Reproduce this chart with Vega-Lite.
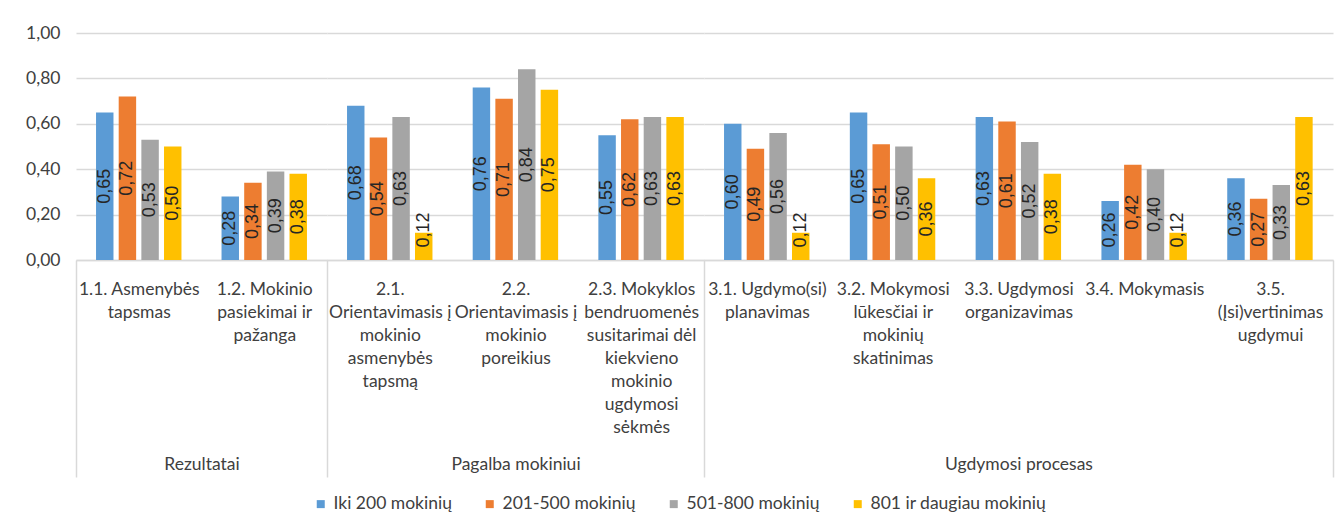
{
  "$schema": "https://vega.github.io/schema/vega-lite/v6.json",
  "padding": {"left": 25, "top": 24, "right": 5, "bottom": 5},
  "bounds": "flush",
  "spacing": 0,
  "config": {
    "locale": {"number": {"decimal": ",", "thousands": " ", "grouping": [3], "currency": ["", " €"]}},
    "view": {"stroke": null},
    "font": "Lato",
    "axis": {"gridColor": "#d9d9d9", "gridWidth": 1.3, "domainColor": "#d9d9d9", "domainWidth": 1.5, "labelFont": "Lato", "labelFontSize": 17.5, "labelColor": "#404040", "titleFont": "Lato", "titleFontSize": 17.5, "titleFontWeight": "normal", "titleColor": "#404040"},
    "axisX": {"titleY": 204, "titleBaseline": "middle", "labelExpr": "split(datum.label, '|')", "labelAngle": 0, "labelBaseline": "top", "labelLineHeight": 23, "labelPadding": -197, "labelLimit": 0, "labelOverlap": false, "labelBound": false, "labelFlush": false, "tickBand": "extent", "tickSize": 217, "tickColor": "#d9d9d9", "tickWidth": 1.5},
    "legend": {"labelFont": "Lato", "labelFontSize": 17.5, "labelColor": "#404040", "labelLimit": 0, "layout": {"bottom": {"anchor": "middle"}}}
  },
  "datasets": {
    "d": [
      {"grp": "Rezultatai", "cat": "1.1. Asmenybės|tapsmas", "series": "Iki 200 mokinių", "v": 0.65},
      {"grp": "Rezultatai", "cat": "1.1. Asmenybės|tapsmas", "series": "201-500 mokinių", "v": 0.72},
      {"grp": "Rezultatai", "cat": "1.1. Asmenybės|tapsmas", "series": "501-800 mokinių", "v": 0.53},
      {"grp": "Rezultatai", "cat": "1.1. Asmenybės|tapsmas", "series": "801 ir daugiau mokinių", "v": 0.50},
      {"grp": "Rezultatai", "cat": "1.2. Mokinio|pasiekimai ir|pažanga", "series": "Iki 200 mokinių", "v": 0.28},
      {"grp": "Rezultatai", "cat": "1.2. Mokinio|pasiekimai ir|pažanga", "series": "201-500 mokinių", "v": 0.34},
      {"grp": "Rezultatai", "cat": "1.2. Mokinio|pasiekimai ir|pažanga", "series": "501-800 mokinių", "v": 0.39},
      {"grp": "Rezultatai", "cat": "1.2. Mokinio|pasiekimai ir|pažanga", "series": "801 ir daugiau mokinių", "v": 0.38},
      {"grp": "Pagalba mokiniui", "cat": "2.1.|Orientavimasis į|mokinio|asmenybės|tapsmą", "series": "Iki 200 mokinių", "v": 0.68},
      {"grp": "Pagalba mokiniui", "cat": "2.1.|Orientavimasis į|mokinio|asmenybės|tapsmą", "series": "201-500 mokinių", "v": 0.54},
      {"grp": "Pagalba mokiniui", "cat": "2.1.|Orientavimasis į|mokinio|asmenybės|tapsmą", "series": "501-800 mokinių", "v": 0.63},
      {"grp": "Pagalba mokiniui", "cat": "2.1.|Orientavimasis į|mokinio|asmenybės|tapsmą", "series": "801 ir daugiau mokinių", "v": 0.12},
      {"grp": "Pagalba mokiniui", "cat": "2.2.|Orientavimasis į|mokinio|poreikius", "series": "Iki 200 mokinių", "v": 0.76},
      {"grp": "Pagalba mokiniui", "cat": "2.2.|Orientavimasis į|mokinio|poreikius", "series": "201-500 mokinių", "v": 0.71},
      {"grp": "Pagalba mokiniui", "cat": "2.2.|Orientavimasis į|mokinio|poreikius", "series": "501-800 mokinių", "v": 0.84},
      {"grp": "Pagalba mokiniui", "cat": "2.2.|Orientavimasis į|mokinio|poreikius", "series": "801 ir daugiau mokinių", "v": 0.75},
      {"grp": "Pagalba mokiniui", "cat": "2.3. Mokyklos|bendruomenės|susitarimai dėl|kiekvieno|mokinio|ugdymosi|sėkmės", "series": "Iki 200 mokinių", "v": 0.55},
      {"grp": "Pagalba mokiniui", "cat": "2.3. Mokyklos|bendruomenės|susitarimai dėl|kiekvieno|mokinio|ugdymosi|sėkmės", "series": "201-500 mokinių", "v": 0.62},
      {"grp": "Pagalba mokiniui", "cat": "2.3. Mokyklos|bendruomenės|susitarimai dėl|kiekvieno|mokinio|ugdymosi|sėkmės", "series": "501-800 mokinių", "v": 0.63},
      {"grp": "Pagalba mokiniui", "cat": "2.3. Mokyklos|bendruomenės|susitarimai dėl|kiekvieno|mokinio|ugdymosi|sėkmės", "series": "801 ir daugiau mokinių", "v": 0.63},
      {"grp": "Ugdymosi procesas", "cat": "3.1. Ugdymo(si)|planavimas", "series": "Iki 200 mokinių", "v": 0.60},
      {"grp": "Ugdymosi procesas", "cat": "3.1. Ugdymo(si)|planavimas", "series": "201-500 mokinių", "v": 0.49},
      {"grp": "Ugdymosi procesas", "cat": "3.1. Ugdymo(si)|planavimas", "series": "501-800 mokinių", "v": 0.56},
      {"grp": "Ugdymosi procesas", "cat": "3.1. Ugdymo(si)|planavimas", "series": "801 ir daugiau mokinių", "v": 0.12},
      {"grp": "Ugdymosi procesas", "cat": "3.2. Mokymosi|lūkesčiai ir|mokinių|skatinimas", "series": "Iki 200 mokinių", "v": 0.65},
      {"grp": "Ugdymosi procesas", "cat": "3.2. Mokymosi|lūkesčiai ir|mokinių|skatinimas", "series": "201-500 mokinių", "v": 0.51},
      {"grp": "Ugdymosi procesas", "cat": "3.2. Mokymosi|lūkesčiai ir|mokinių|skatinimas", "series": "501-800 mokinių", "v": 0.50},
      {"grp": "Ugdymosi procesas", "cat": "3.2. Mokymosi|lūkesčiai ir|mokinių|skatinimas", "series": "801 ir daugiau mokinių", "v": 0.36},
      {"grp": "Ugdymosi procesas", "cat": "3.3. Ugdymosi|organizavimas", "series": "Iki 200 mokinių", "v": 0.63},
      {"grp": "Ugdymosi procesas", "cat": "3.3. Ugdymosi|organizavimas", "series": "201-500 mokinių", "v": 0.61},
      {"grp": "Ugdymosi procesas", "cat": "3.3. Ugdymosi|organizavimas", "series": "501-800 mokinių", "v": 0.52},
      {"grp": "Ugdymosi procesas", "cat": "3.3. Ugdymosi|organizavimas", "series": "801 ir daugiau mokinių", "v": 0.38},
      {"grp": "Ugdymosi procesas", "cat": "3.4. Mokymasis", "series": "Iki 200 mokinių", "v": 0.26},
      {"grp": "Ugdymosi procesas", "cat": "3.4. Mokymasis", "series": "201-500 mokinių", "v": 0.42},
      {"grp": "Ugdymosi procesas", "cat": "3.4. Mokymasis", "series": "501-800 mokinių", "v": 0.40},
      {"grp": "Ugdymosi procesas", "cat": "3.4. Mokymasis", "series": "801 ir daugiau mokinių", "v": 0.12},
      {"grp": "Ugdymosi procesas", "cat": "3.5.|(Įsi)vertinimas|ugdymui", "series": "Iki 200 mokinių", "v": 0.36},
      {"grp": "Ugdymosi procesas", "cat": "3.5.|(Įsi)vertinimas|ugdymui", "series": "201-500 mokinių", "v": 0.27},
      {"grp": "Ugdymosi procesas", "cat": "3.5.|(Įsi)vertinimas|ugdymui", "series": "501-800 mokinių", "v": 0.33},
      {"grp": "Ugdymosi procesas", "cat": "3.5.|(Įsi)vertinimas|ugdymui", "series": "801 ir daugiau mokinių", "v": 0.63}
    ]
  },
  "hconcat": [
    {
      "width": 251, "height": 227,
      "data": {"name": "d"},
      "transform": [{"filter": {"field": "grp", "equal": "Rezultatai"}}],
      "layer": [
        {
          "mark": {"type": "bar"},
          "encoding": {
            "x": {"field": "cat", "type": "nominal", "sort": null, "scale": {"paddingInner": 0, "paddingOuter": 0},
              "axis": {"title": "Rezultatai", "tickOpacity": {"condition": {"test": "datum.index < 0", "value": 1}, "value": 0}}},
            "xOffset": {"field": "series", "type": "nominal", "sort": null, "scale": {"paddingInner": 0.23, "paddingOuter": 0.884}},
            "y": {"field": "v", "type": "quantitative", "scale": {"domain": [0, 1]},
              "axis": {"title": null, "values": [0, 0.2, 0.4, 0.6, 0.8, 1], "format": ".2f", "ticks": false, "domain": false, "labelPadding": 16, "grid": true}},
            "color": {"field": "series", "type": "nominal", "sort": null,
              "scale": {"domain": ["Iki 200 mokinių", "201-500 mokinių", "501-800 mokinių", "801 ir daugiau mokinių"], "range": ["#5B9BD5", "#ED7D31", "#A5A5A5", "#FFC000"]},
              "legend": {"title": null, "orient": "bottom", "direction": "horizontal", "symbolType": "square", "symbolSize": 64, "symbolStrokeWidth": 0, "columnPadding": 29, "labelOffset": 4, "offset": 17}}
          }
        },
        {
          "mark": {"type": "text", "angle": 270, "align": "center", "baseline": "middle", "font": "Liberation Sans", "fontSize": 18, "color": "#262626"},
          "encoding": {
            "x": {"field": "cat", "type": "nominal", "sort": null},
            "xOffset": {"field": "series", "type": "nominal", "sort": null},
            "y": {"field": "v", "type": "quantitative", "scale": {"domain": [0, 0.264, 2], "range": [197, 197, 0], "nice": false, "zero": false}, "axis": null},
            "text": {"field": "v", "type": "quantitative", "format": ".2f"}
          }
        }
      ],
      "resolve": {"scale": {"y": "independent"}}
    },
    {
      "width": 377, "height": 227,
      "data": {"name": "d"},
      "transform": [{"filter": {"field": "grp", "equal": "Pagalba mokiniui"}}],
      "layer": [
        {
          "mark": {"type": "bar"},
          "encoding": {
            "x": {"field": "cat", "type": "nominal", "sort": null, "scale": {"paddingInner": 0, "paddingOuter": 0},
              "axis": {"title": "Pagalba mokiniui", "tickOpacity": {"condition": {"test": "datum.index < 0", "value": 1}, "value": 0}}},
            "xOffset": {"field": "series", "type": "nominal", "sort": null, "scale": {"paddingInner": 0.23, "paddingOuter": 0.884}},
            "y": {"field": "v", "type": "quantitative", "scale": {"domain": [0, 1]},
              "axis": {"title": null, "values": [0, 0.2, 0.4, 0.6, 0.8, 1], "labels": false, "ticks": false, "domain": false, "grid": true}},
            "color": {"field": "series", "type": "nominal", "sort": null,
              "scale": {"domain": ["Iki 200 mokinių", "201-500 mokinių", "501-800 mokinių", "801 ir daugiau mokinių"], "range": ["#5B9BD5", "#ED7D31", "#A5A5A5", "#FFC000"]},
              "legend": {"title": null, "orient": "bottom", "direction": "horizontal", "symbolType": "square", "symbolSize": 64, "symbolStrokeWidth": 0, "columnPadding": 29, "labelOffset": 4, "offset": 17}}
          }
        },
        {
          "mark": {"type": "text", "angle": 270, "align": "center", "baseline": "middle", "font": "Liberation Sans", "fontSize": 18, "color": "#262626"},
          "encoding": {
            "x": {"field": "cat", "type": "nominal", "sort": null},
            "xOffset": {"field": "series", "type": "nominal", "sort": null},
            "y": {"field": "v", "type": "quantitative", "scale": {"domain": [0, 0.264, 2], "range": [197, 197, 0], "nice": false, "zero": false}, "axis": null},
            "text": {"field": "v", "type": "quantitative", "format": ".2f"}
          }
        }
      ],
      "resolve": {"scale": {"y": "independent"}}
    },
    {
      "width": 629, "height": 227,
      "data": {"name": "d"},
      "transform": [{"filter": {"field": "grp", "equal": "Ugdymosi procesas"}}],
      "layer": [
        {
          "mark": {"type": "bar"},
          "encoding": {
            "x": {"field": "cat", "type": "nominal", "sort": null, "scale": {"paddingInner": 0, "paddingOuter": 0},
              "axis": {"title": "Ugdymosi procesas", "tickOpacity": {"condition": {"test": "datum.index < 0 || datum.index >= 1", "value": 1}, "value": 0}}},
            "xOffset": {"field": "series", "type": "nominal", "sort": null, "scale": {"paddingInner": 0.23, "paddingOuter": 0.884}},
            "y": {"field": "v", "type": "quantitative", "scale": {"domain": [0, 1]},
              "axis": {"title": null, "values": [0, 0.2, 0.4, 0.6, 0.8, 1], "labels": false, "ticks": false, "domain": false, "grid": true}},
            "color": {"field": "series", "type": "nominal", "sort": null,
              "scale": {"domain": ["Iki 200 mokinių", "201-500 mokinių", "501-800 mokinių", "801 ir daugiau mokinių"], "range": ["#5B9BD5", "#ED7D31", "#A5A5A5", "#FFC000"]},
              "legend": {"title": null, "orient": "bottom", "direction": "horizontal", "symbolType": "square", "symbolSize": 64, "symbolStrokeWidth": 0, "columnPadding": 29, "labelOffset": 4, "offset": 17}}
          }
        },
        {
          "mark": {"type": "text", "angle": 270, "align": "center", "baseline": "middle", "font": "Liberation Sans", "fontSize": 18, "color": "#262626"},
          "encoding": {
            "x": {"field": "cat", "type": "nominal", "sort": null},
            "xOffset": {"field": "series", "type": "nominal", "sort": null},
            "y": {"field": "v", "type": "quantitative", "scale": {"domain": [0, 0.264, 2], "range": [197, 197, 0], "nice": false, "zero": false}, "axis": null},
            "text": {"field": "v", "type": "quantitative", "format": ".2f"}
          }
        }
      ],
      "resolve": {"scale": {"y": "independent"}}
    }
  ],
  "resolve": {"scale": {"color": "shared"}}
}
